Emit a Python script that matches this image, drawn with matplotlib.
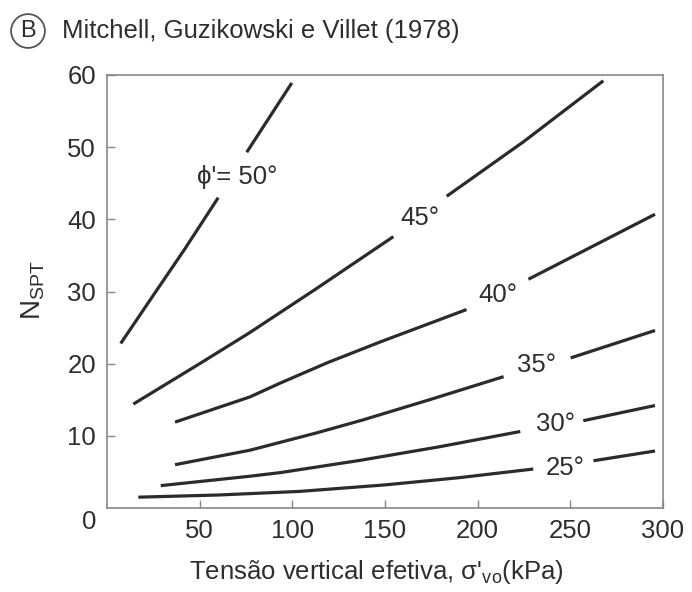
import matplotlib
matplotlib.use("Agg")
import matplotlib.pyplot as plt

plt.rcParams['font.family'] = ['Liberation Sans', 'DejaVu Sans']
plt.rcParams['mathtext.fontset'] = 'custom'
plt.rcParams['mathtext.rm'] = 'Liberation Sans'
plt.rcParams['mathtext.it'] = 'Liberation Sans'

#  Curve data (effective vertical stress kPa, N_SPT), split where labels sit
curves = {
    "50": [([7.4, 23.2, 42, 60], [22.8, 28.8, 35.9, 43.0]),
           ([75.4, 99.7], [49.3, 58.9])],
    "45": [([14.2, 50, 77, 113, 154.5], [14.4, 20.0, 24.3, 30.4, 37.6]),
           ([183.3, 225, 267.8], [43.2, 50.8, 59.2])],
    "40": [([36.7, 77.2, 93.4, 118.6, 147.3, 174.3, 194], [11.9, 15.4, 17.3, 20.1, 23.0, 25.6, 27.5]),
           ([227.4, 295.7], [31.7, 40.7])],
    "35": [([36.7, 77, 113, 138, 174, 214], [6.0, 8.0, 10.4, 12.2, 15.0, 18.2]),
           ([250.2, 295.7], [20.8, 24.6])],
    "30": [([29, 77, 93.4, 136.5, 179.7, 223], [3.1, 4.4, 4.9, 6.6, 8.5, 10.6]),
           ([257, 295.7], [12.1, 14.2])],
    "25": [([16.9, 60, 104, 150, 190, 230], [1.5, 1.8, 2.3, 3.2, 4.2, 5.4]),
           ([262.5, 295.7], [6.55, 7.9])],
}
labels = ["\u03d5'= 50\u00b0", "45\u00b0", "40\u00b0", "35\u00b0", "30\u00b0", "25\u00b0"]
label_x = [70, 169, 211, 232, 242, 247]
label_y = [45.9, 40.2, 29.5, 19.8, 11.7, 5.5]

x_ticks = [50, 100, 150, 200, 250, 300]
y_ticks = [10, 20, 30, 40, 50, 60]

fig = plt.figure(figsize=(6.92, 5.92), dpi=100)
ax = fig.add_axes([107/692, 84/592, 556/692, 433/592])

line_color = '#2b2b2b'
text_color = '#2e2e2e'
for key, segs in curves.items():
    for xs, ys in segs:
        ax.plot(xs, ys, color=line_color, lw=2.3, solid_capstyle='butt',
                solid_joinstyle='round')

for lab, lx, ly in zip(labels, label_x, label_y):
    ax.text(lx, ly, lab, ha='center', va='center', fontsize=18.5, color=text_color)

ax.set_xlim(0, 300)
ax.set_ylim(0, 60)
ax.set_xticks(x_ticks)
ax.set_yticks(y_ticks)
ax.tick_params(direction='in', length=6, width=1, color='#888888',
               labelsize=18.5, labelcolor=text_color, pad=8)
for s in ax.spines.values():
    s.set_color('#888888')
    s.set_linewidth(1.2)

# shared origin label
ax.text(-5.5, -2, "0", ha='right', va='center', fontsize=18.5, color=text_color,
        clip_on=False)

fig.text(376/692, 1 - 572/592, "Tensão vertical efetiva, \u03c3'$_{\\mathrm{vo}}$(kPa)",
         ha='center', va='center', fontsize=18.5, color=text_color)
fig.text(33/692, 1 - 290/592, "N$_{\\mathrm{SPT}}$", rotation=90,
         ha='center', va='center', fontsize=20, color=text_color)

# title with circled letter
fig.text(28/692, 1 - 31/592, "B", ha='center', va='center', fontsize=17,
         color=text_color,
         bbox=dict(boxstyle='circle,pad=0.25', fc='white', ec='#555555', lw=1.3))
fig.text(62/692, 1 - 31/592, "Mitchell, Guzikowski e Villet (1978)",
         ha='left', va='center', fontsize=18.5, color=text_color)

fig.savefig("out.png", dpi=100)
